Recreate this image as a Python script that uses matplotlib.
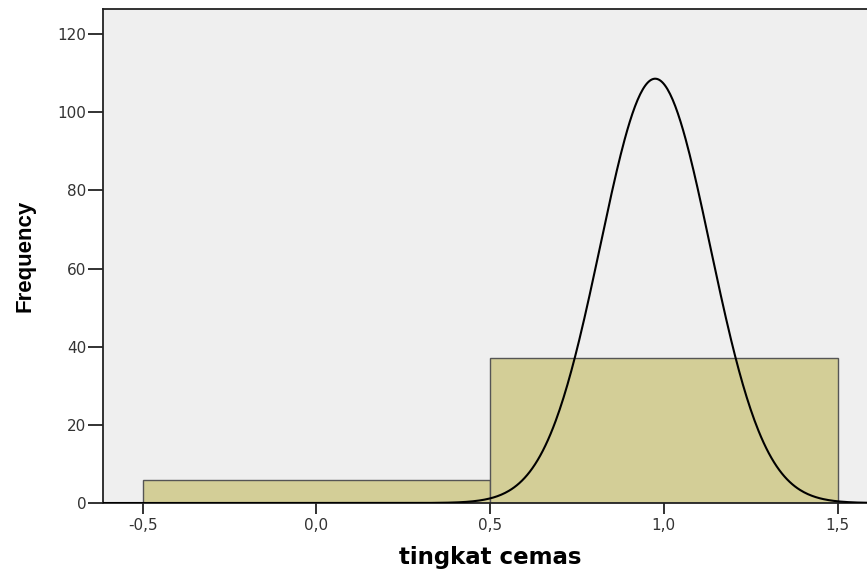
import numpy as np
import matplotlib.pyplot as plt

# histogram bins (edges) and counts
bin_edges = [-0.5, 0.5, 1.5]
counts = [6, 37]

# fitted normal curve shown by SPSS
curve_mean = 0.975
curve_sd = 0.158
curve_n = 43

x_ticks = [-0.5, 0.0, 0.5, 1.0, 1.5]
x_tick_labels = ['-0,5', '0,0', '0,5', '1,0', '1,5']
y_ticks = [0, 20, 40, 60, 80, 100, 120]

plt.rcParams['font.family'] = ['DejaVu Sans']

fig = plt.figure(figsize=(8.67, 5.75), dpi=100)
ax = fig.add_axes([0.1188, 0.1252, 0.893, 0.8591])
ax.set_facecolor('#efefef')

widths = np.diff(bin_edges)
ax.bar(bin_edges[:-1], counts, width=widths, align='edge',
       color='#d3ce97', edgecolor='#555555', linewidth=1.0, zorder=2)

xs = np.linspace(-0.62, 1.62, 600)
ys = curve_n * 1.0 / (curve_sd * np.sqrt(2 * np.pi)) * np.exp(-0.5 * ((xs - curve_mean) / curve_sd) ** 2)
ax.plot(xs, ys, color='black', linewidth=1.5, zorder=3)

ax.set_xlim(-0.614, 1.614)
ax.set_ylim(0, 126.4)
ax.set_xticks(x_ticks)
ax.set_xticklabels(x_tick_labels)
ax.set_yticks(y_ticks)

for side in ['left', 'bottom', 'top', 'right']:
    ax.spines[side].set_color('#222222')
    ax.spines[side].set_linewidth(1.3)

ax.tick_params(direction='out', width=1.3, color='#222222',
               labelsize=11, labelcolor='#333333')
ax.tick_params(axis='x', length=8, pad=3)
ax.tick_params(axis='y', length=11, pad=1)

ax.set_xlabel('tingkat cemas', fontsize=16.5, fontweight='bold', va='center')
ax.xaxis.set_label_coords(0.5, -0.111)
ax.set_ylabel('Frequency', fontsize=16, fontweight='bold',
              family=['Liberation Sans Narrow', 'Liberation Sans'])
ax.yaxis.set_label_coords(-0.0866, 0.5)

fig.savefig('out.png', dpi=100)
